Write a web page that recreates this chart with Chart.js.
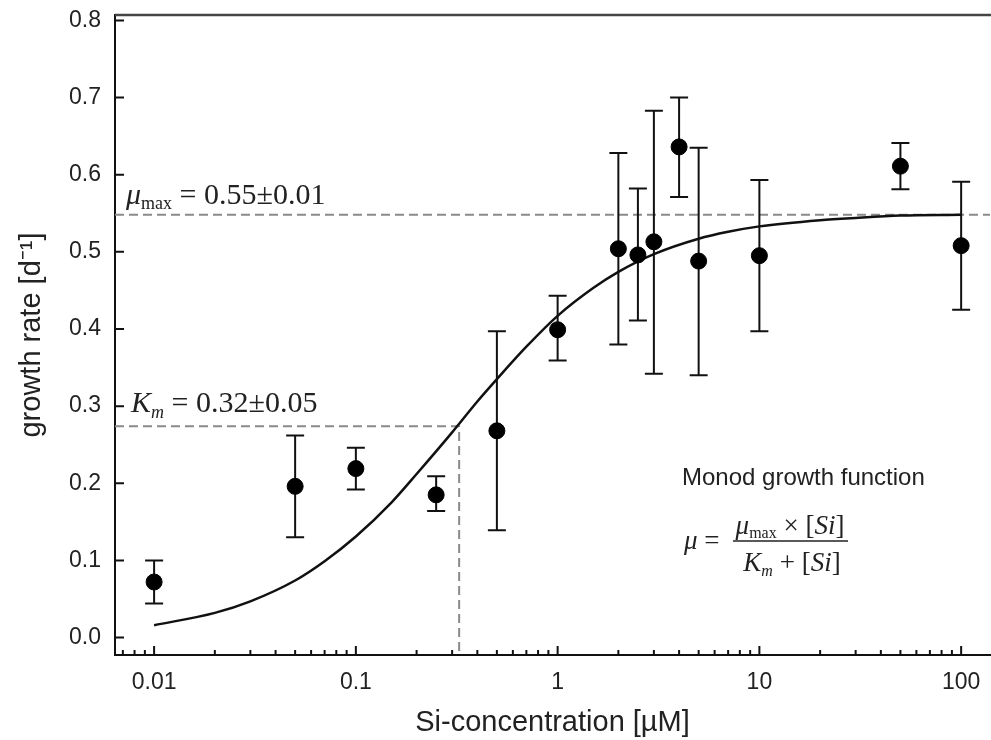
<!DOCTYPE html>
<html>
<head>
<meta charset="utf-8">
<script src="https://cdn.jsdelivr.net/npm/chart.js@4"></script>
<style>
  html, body { margin: 0; padding: 0; background: #fff; }
  #wrap { width: 991px; height: 740px; }
</style>
</head>
<body>
<div id="wrap"><canvas id="chart_monod" width="991" height="740"></canvas></div>
<script>
const siConc   = [0.01, 0.05, 0.1, 0.25, 0.5, 1, 2, 2.5, 3, 4, 5, 10, 50, 100];
const growth   = [0.072, 0.196, 0.219, 0.185, 0.268, 0.399, 0.504, 0.496, 0.513, 0.636, 0.488, 0.495, 0.611, 0.508];
const errHigh  = [0.100, 0.262, 0.246, 0.209, 0.397, 0.443, 0.628, 0.582, 0.683, 0.700, 0.635, 0.593, 0.641, 0.591];
const errLow   = [0.044, 0.130, 0.192, 0.164, 0.139, 0.359, 0.380, 0.411, 0.342, 0.571, 0.340, 0.397, 0.581, 0.425];

// fitted Monod curve
const curveX = [0.01, 0.02, 0.03, 0.05, 0.07, 0.1, 0.15, 0.2, 0.3, 0.4, 0.5, 0.7, 1, 1.5, 2, 3, 5, 7, 10, 20, 30, 50, 100];
const curveY = [0.016, 0.032, 0.047, 0.074, 0.099, 0.131, 0.175, 0.212, 0.266, 0.306, 0.335, 0.377, 0.417, 0.453, 0.474, 0.497, 0.517, 0.526, 0.533, 0.541, 0.544, 0.547, 0.548];

// reference lines
const muMax = 0.548;
const halfMax = 0.274;
const kmConc = 0.325;

// ticks
const yTicks = [0, 0.1, 0.2, 0.3, 0.4, 0.5, 0.6, 0.7, 0.8];
const xMajorTicks = [0.01, 0.1, 1, 10, 100];
const xTickLabels = ["0.01", "0.1", "1", "10", "100"];
const xMinorLead = [0.007, 0.008, 0.009];
const minorSteps = [2, 3, 4, 5, 6, 7, 8, 9];

const SANS = "'Liberation Sans', Arial, sans-serif";
const SERIF = "'Liberation Serif', 'Times New Roman', serif";
const TXT = "#222";

let xTickList = xMinorLead.slice();
xMajorTicks.forEach(d => {
    xTickList.push(d);
    if (d < 100) minorSteps.forEach(m => xTickList.push(+(m * d).toPrecision(3)));
});

// draw a run of text pieces (italic / subscript) from x at baseline y
function drawRuns(ctx, x, y, runs, align) {
    let w = 0;
    runs.forEach(r => { ctx.font = r.font; w += ctx.measureText(r.t).width; });
    let cx = align === "center" ? x - w / 2 : x;
    ctx.textAlign = "left";
    ctx.textBaseline = "alphabetic";
    runs.forEach(r => {
        ctx.font = r.font;
        ctx.fillText(r.t, cx, y + (r.dy || 0));
        cx += ctx.measureText(r.t).width;
    });
    return w;
}

const decorPlugin = {
    id: "decor",
    beforeDatasetsDraw(chart) {
        const ctx = chart.ctx;
        const xs = chart.scales.x, ys = chart.scales.y;
        const area = chart.chartArea;
        ctx.save();
        // dashed guide lines
        ctx.strokeStyle = "#8a8a8a";
        ctx.lineWidth = 2;
        ctx.setLineDash([9, 5]);
        let yMu = ys.getPixelForValue(muMax);
        ctx.beginPath();
        ctx.moveTo(area.left, yMu);
        ctx.lineTo(area.right, yMu);
        ctx.stroke();
        let yHalf = ys.getPixelForValue(halfMax);
        let xKm = xs.getPixelForValue(kmConc);
        ctx.beginPath();
        ctx.moveTo(area.left, yHalf);
        ctx.lineTo(xKm, yHalf);
        ctx.lineTo(xKm, area.bottom);
        ctx.stroke();
        ctx.setLineDash([]);

        // error bars
        ctx.strokeStyle = "#111";
        ctx.lineWidth = 2;
        siConc.forEach((c, i) => {
            let px = xs.getPixelForValue(c);
            let hi = ys.getPixelForValue(errHigh[i]);
            let lo = ys.getPixelForValue(errLow[i]);
            ctx.beginPath();
            ctx.moveTo(px, hi); ctx.lineTo(px, lo);
            ctx.moveTo(px - 9, hi); ctx.lineTo(px + 9, hi);
            ctx.moveTo(px - 9, lo); ctx.lineTo(px + 9, lo);
            ctx.stroke();
        });
        ctx.restore();
    },
    afterDraw(chart) {
        const ctx = chart.ctx;
        const xs = chart.scales.x, ys = chart.scales.y;
        const area = chart.chartArea;
        ctx.save();
        // top frame line
        ctx.strokeStyle = "#444";
        ctx.lineWidth = 2.5;
        ctx.beginPath();
        ctx.moveTo(area.left, area.top);
        ctx.lineTo(chart.width, area.top);
        ctx.stroke();

        // inward ticks
        ctx.strokeStyle = "#111";
        ctx.lineWidth = 2;
        ctx.beginPath();
        xs.ticks.forEach(t => {
            let px = xs.getPixelForValue(t.value);
            let len = xMajorTicks.includes(t.value) ? 9 : 5;
            ctx.moveTo(px, area.bottom);
            ctx.lineTo(px, area.bottom - len);
        });
        ys.ticks.forEach(t => {
            let py = ys.getPixelForValue(t.value);
            ctx.moveTo(area.left, py);
            ctx.lineTo(area.left + 9, py);
        });
        ctx.stroke();

        // annotations
        ctx.fillStyle = TXT;
        let yMu = ys.getPixelForValue(muMax);
        drawRuns(ctx, area.left + 11, yMu - 11, [
            { t: "\u03bc", font: "italic 30px " + SERIF },
            { t: "max", font: "18px " + SERIF, dy: 5 },
            { t: " = 0.55\u00b10.01", font: "30px " + SERIF }
        ]);
        let yHalf = ys.getPixelForValue(halfMax);
        drawRuns(ctx, area.left + 16, yHalf - 14, [
            { t: "K", font: "italic 30px " + SERIF },
            { t: "m", font: "italic 18px " + SERIF, dy: 6 },
            { t: " = 0.32\u00b10.05", font: "30px " + SERIF }
        ]);

        ctx.font = "24px " + SANS;
        ctx.textAlign = "left";
        ctx.fillText("Monod growth function", 682, 485);

        drawRuns(ctx, 684, 549, [
            { t: "\u03bc", font: "italic 27px " + SERIF },
            { t: " = ", font: "27px " + SERIF }
        ]);
        drawRuns(ctx, 790, 534, [
            { t: "\u03bc", font: "italic 27px " + SERIF },
            { t: "max", font: "16px " + SERIF, dy: 4 },
            { t: " \u00d7 [", font: "27px " + SERIF },
            { t: "Si", font: "italic 27px " + SERIF },
            { t: "]", font: "27px " + SERIF }
        ], "center");
        ctx.strokeStyle = TXT;
        ctx.lineWidth = 1.5;
        ctx.beginPath();
        ctx.moveTo(733, 541);
        ctx.lineTo(848, 541);
        ctx.stroke();
        drawRuns(ctx, 792, 571, [
            { t: "K", font: "italic 27px " + SERIF },
            { t: "m", font: "italic 16px " + SERIF, dy: 5 },
            { t: " + [", font: "27px " + SERIF },
            { t: "Si", font: "italic 27px " + SERIF },
            { t: "]", font: "27px " + SERIF }
        ], "center");
        ctx.restore();
    }
};

new Chart(document.getElementById("chart_monod").getContext("2d"), {
    type: "scatter",
    data: {
        datasets: [
            {
                label: "Monod fit",
                data: curveX.map((x, i) => ({ x: x, y: curveY[i] })),
                showLine: true,
                borderColor: "#111",
                borderWidth: 2.5,
                pointRadius: 0,
                cubicInterpolationMode: "monotone",
                order: 2
            },
            {
                label: "growth rate",
                data: siConc.map((x, i) => ({ x: x, y: growth[i] })),
                backgroundColor: "#000",
                borderColor: "#000",
                pointRadius: 8,
                pointHoverRadius: 8,
                order: 1
            }
        ]
    },
    options: {
        responsive: false,
        animation: false,
        devicePixelRatio: 1,
        layout: { autoPadding: false, padding: { top: 15, right: 1, bottom: 0, left: 0 } },
        plugins: {
            legend: { display: false },
            tooltip: { enabled: false }
        },
        scales: {
            x: {
                type: "logarithmic",
                min: 0.0064,
                max: 139,
                afterBuildTicks: scale => {
                    scale.ticks = xTickList.map(v => ({ value: v, major: xMajorTicks.includes(v) }));
                },
                afterFit: scale => {
                    scale.height = 85;
                    scale.paddingLeft = 0;
                    scale.paddingRight = 0;
                },
                grid: { display: false, drawTicks: false },
                border: { display: true, color: "#111", width: 2 },
                ticks: {
                    autoSkip: false,
                    maxRotation: 0,
                    padding: 14,
                    color: TXT,
                    font: { family: SANS, size: 23 },
                    callback: function(value) {
                        let k = xMajorTicks.indexOf(value);
                        return k >= 0 ? xTickLabels[k] : "";
                    }
                },
                title: {
                    display: true,
                    text: "Si-concentration [\u00b5M]",
                    color: TXT,
                    font: { family: SANS, size: 29 },
                    padding: { top: 3, bottom: 0 }
                }
            },
            y: {
                min: -0.0226,
                max: 0.807,
                afterBuildTicks: scale => {
                    scale.ticks = yTicks.map(v => ({ value: v }));
                },
                afterFit: scale => {
                    scale.width = 115;
                    scale.paddingTop = 0;
                    scale.paddingBottom = 0;
                },
                grid: { display: false, drawTicks: false },
                border: { display: true, color: "#111", width: 2 },
                ticks: {
                    padding: 14,
                    color: TXT,
                    font: { family: SANS, size: 23 },
                    callback: v => v.toFixed(1)
                },
                title: {
                    display: true,
                    text: "growth rate [d\u207b\u00b9]",
                    color: TXT,
                    font: { family: SANS, size: 29 },
                    padding: { top: 15, bottom: 0 }
                }
            }
        }
    },
    plugins: [decorPlugin]
});
</script>
</body>
</html>
